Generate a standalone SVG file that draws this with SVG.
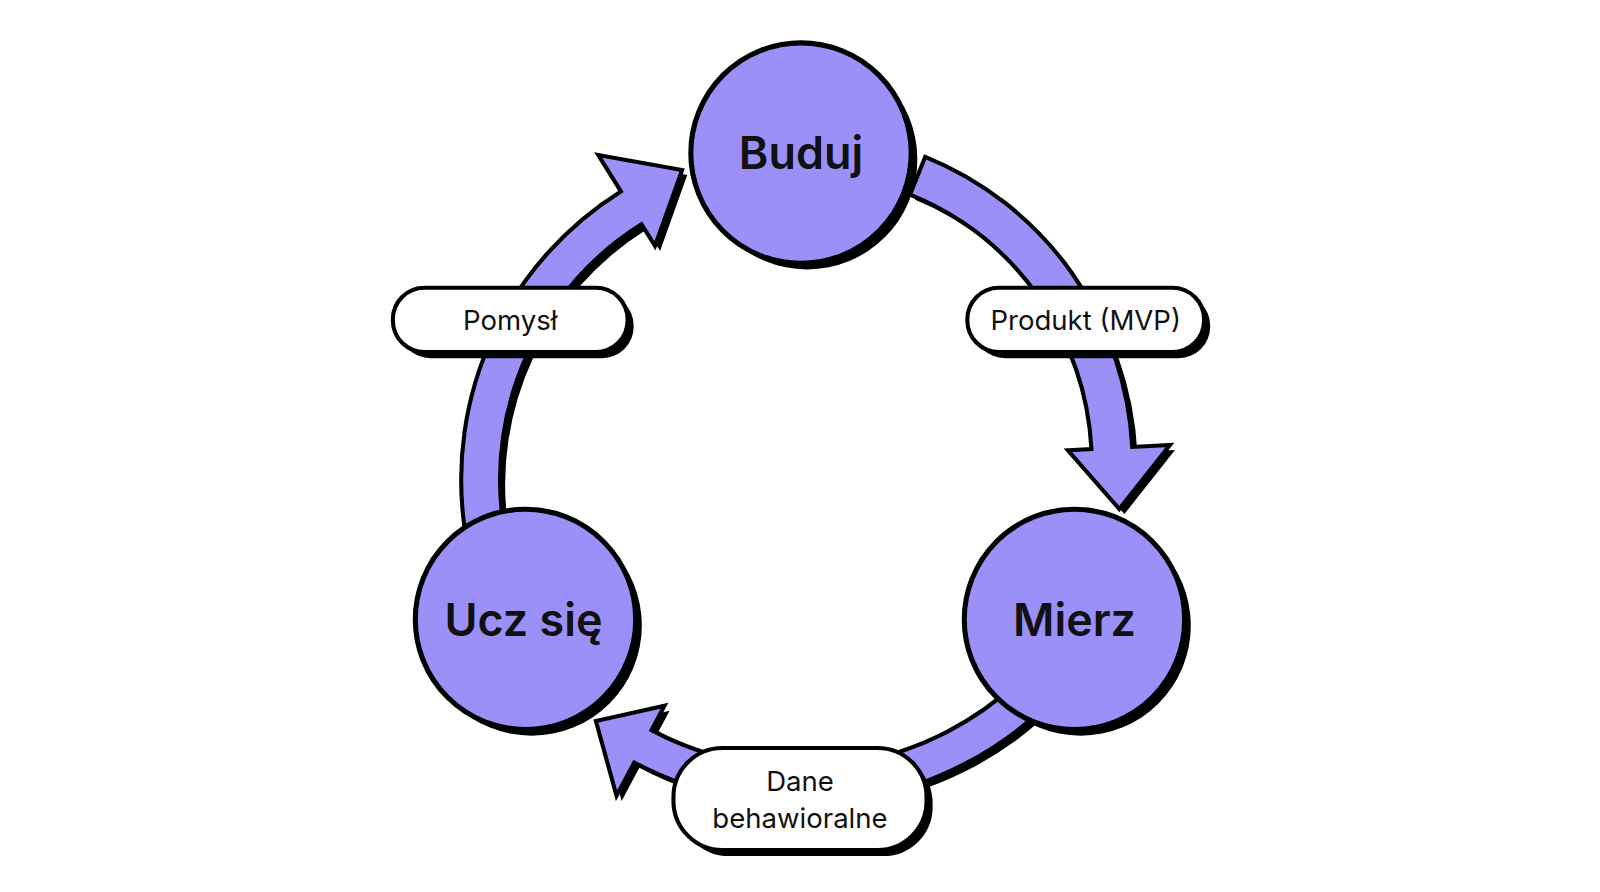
<svg xmlns="http://www.w3.org/2000/svg" width="1600" height="892" viewBox="0 0 1600 892">
<style>
.sh{fill:#000}
.ar{fill:#9a90f8;stroke:#000;stroke-width:4;stroke-linejoin:miter}
.nd{fill:#9a90f8;stroke:#000;stroke-width:5}
.pl{fill:#fff;stroke:#000;stroke-width:4}
.big{font-family:Inter,"Noto Sans",sans-serif;font-weight:600;font-size:44px;fill:#111;text-anchor:middle}
.sm{font-family:Inter,"Noto Sans",sans-serif;font-size:27px;fill:#111;text-anchor:middle}
</style>
<defs>
<path id="a1" d="M906.7,153.7 A325,325 0 0 1 1109.6,438 L1146.5,436.1 L1096.9,498.8 L1046.6,441.3 L1069.6,440.1 A285,285 0 0 0 891.8,190.8 Z"/>
<path id="a2" d="M1031,686 A348,348 0 0 1 621.6,747.3 L604.2,779.9 L584,706.7 L651.2,691.6 L638.5,715.5 A312,312 0 0 0 1005.6,660.6 Z"/>
<path id="a3" d="M455.2,516.4 A333,333 0 0 1 608.5,187.6 L586.3,152 L668.5,166.6 L641.9,241 L628.7,219.8 A295,295 0 0 0 492.9,511.1 Z"/>
</defs>
<rect width="1600" height="892" fill="#fff"/>
<g transform="scale(1.0204)">
<g id="connectors">
<use href="#a1" class="sh" transform="translate(5,5)"/><use href="#a1" class="ar"/>
<use href="#a2" class="sh" transform="translate(5,5)"/><use href="#a2" class="ar"/>
<use href="#a3" class="sh" transform="translate(5,5)"/><use href="#a3" class="ar"/>
</g>
<g id="buduj"><circle cx="791" cy="156" r="108" class="sh"/><circle cx="785" cy="150" r="108" class="nd"/><text x="785" y="166" class="big">Buduj</text></g>
<g id="mierz"><circle cx="1059" cy="613" r="108" class="sh"/><circle cx="1053" cy="607" r="108" class="nd"/><text x="1053" y="623" class="big">Mierz</text></g>
<g id="ucz"><circle cx="521" cy="613" r="108" class="sh"/><circle cx="515" cy="607" r="108" class="nd"/><text x="513" y="623" class="big">Ucz się</text></g>
<g id="pomysl"><rect x="391" y="288" width="230" height="63" rx="31" class="sh"/><rect x="385" y="282" width="230" height="63" rx="31" class="pl"/><text x="500" y="323" class="sm">Pomysł</text></g>
<g id="produkt"><rect x="954" y="288" width="232" height="63" rx="31" class="sh"/><rect x="948" y="282" width="232" height="63" rx="31" class="pl"/><text x="1064" y="323" class="sm">Produkt (MVP)</text></g>
<g id="dane"><rect x="666" y="739" width="248" height="100" rx="48" class="sh"/><rect x="660" y="733" width="248" height="100" rx="48" class="pl"/><text x="784" y="775" class="sm">Dane</text><text x="784" y="811" class="sm">behawioralne</text></g>
</g>
</svg>
